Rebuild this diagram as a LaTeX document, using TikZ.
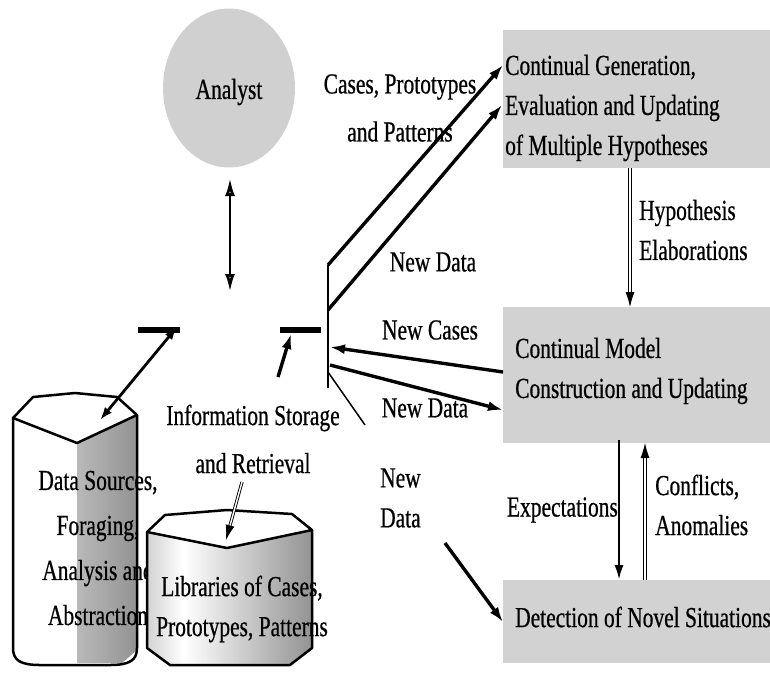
\documentclass[tikz,border=0pt]{standalone}
\usepackage{fontspec}
\setmainfont{Liberation Serif}[FakeStretch=0.74,FakeBold=0.6]
\usetikzlibrary{arrows.meta,shapes.geometric}
\pgfdeclarehorizontalshading{libshade}{100bp}{color(0bp)=(gray!35); color(25bp)=(gray!35); color(36bp)=(white); color(75bp)=(gray!85); color(100bp)=(gray!85)}
\pgfdeclarehorizontalshading{srcshade}{100bp}{color(0bp)=(gray!55); color(25bp)=(gray!55); color(75bp)=(gray!85); color(100bp)=(gray!85)}

\begin{document}
\begin{tikzpicture}[x=1pt,y=-1pt,
  lbl/.style={font=\fontsize{29}{40}\selectfont, inner sep=0pt},
  panel/.style={fill=gray!35, draw=none, anchor=north west, inner sep=0pt, minimum width=267pt},
  flow/.style={line width=3.4pt, -{Latex[length=15pt,width=10pt]}},
  hollow/.style={double=white, double distance=1.4pt, line width=0.9pt, -{Latex[length=15pt,width=9pt]}},
  cyl/.style={line width=2.5pt, line join=round}]
\useasboundingbox (0,0) rectangle (770,675);

% analyst and the three panels
\node[ellipse, fill=gray!37, minimum width=132pt, minimum height=159pt, inner sep=0pt] (analyst) at (229,88) {};
\node[lbl] (analystTxt) at (229,92) {Analyst};
\node[panel, minimum height=138pt] (gen) at (503,30) {};
\node[panel, minimum height=136pt] (model) at (503,307) {};
\node[panel, minimum height=83pt] (detect) at (503,580) {};
\node[lbl, align=left, anchor=west] (genTxt) at (505,108) {Continual Generation,\\Evaluation and Updating\\of Multiple Hypotheses};
\node[lbl, align=left, anchor=west] (modelTxt) at (515,371) {Continual Model\\Construction and Updating};
\node[lbl, anchor=west] (detectTxt) at (515,617) {Detection of Novel Situations};

% data sources cylinder
\shade[shading=srcshade] (77,443) -- (137,415) -- (137,650) -- (122,663) -- (77,663) -- cycle;
\draw[cyl] (13,418) -- (13,648) .. controls (13,660) and (20,665) .. (40,665) -- (110,665) .. controls (130,665) and (137,660) .. (137,648) -- (137,415);
\draw[cyl] (13,418) -- (33,397) -- (75,393) -- (117,397) -- (137,415) -- (77,443) -- cycle;
\node[lbl, align=center] (sources) at (98,548) {Data Sources,\\[5pt]Foraging,\\[5pt]Analysis and\\[5pt]Abstraction};

% libraries cylinder
\shade[shading=libshade] (147,532) -- (227,548) -- (312,530) -- (312,648) -- (290,665) -- (170,665) -- (147,648) -- cycle;
\draw[cyl] (147,532) -- (147,648) -- (170,665) -- (290,665) -- (312,648) -- (312,530);
\draw[cyl, fill=white] (147,532) -- (165,515) -- (227,510) -- (292,514) -- (312,530) -- (227,548) -- cycle;
\node[lbl, align=center] (library) at (242,609) {Libraries of Cases,\\Prototypes, Patterns};

% labels
\node[lbl, align=center] (storage) at (253,439) {Information Storage\\[8pt]and Retrieval};
\node[lbl, align=center] (casesLbl) at (400,108) {Cases, Prototypes\\[8pt]and Patterns};
\node[lbl] (newData1) at (433,262) {New Data};
\node[lbl] (newCases) at (430,330) {New Cases};
\node[lbl] (newData2) at (425,408) {New Data};
\node[lbl, align=left, anchor=west] (newData3) at (380,498) {New\\Data};
\node[lbl, align=left, anchor=west] (hypoLbl) at (639,230) {Hypothesis\\Elaborations};
\node[lbl, anchor=east] (expLbl) at (618,510) {Expectations};
\node[lbl, align=left, anchor=west] (conflLbl) at (655,505) {Conflicts,\\Anomalies};

% hub
\coordinate (barL1) at (138,330);
\coordinate (barL2) at (180,330);
\coordinate (barR1) at (280,330);
\coordinate (barR2) at (321,330);
\coordinate (hubTop) at (328,265);
\coordinate (hubBot) at (328,388);
\draw[line width=6pt] (barL1) -- (barL2);
\draw[line width=6pt] (barR1) -- (barR2);
\draw[line width=1.2pt] (hubTop) -- (hubBot);
\draw[line width=1.5pt] (328,372) -- (365,425);

% connectors
\coordinate (anaA) at (230,178);
\coordinate (anaB) at (230,292);
\draw[line width=2.8pt, {Latex[open,length=18pt,width=10pt]}-{Latex[open,length=18pt,width=10pt]}] (anaA) -- (anaB);
\coordinate (srcTop) at (100,420);
\coordinate (barLin) at (177,327);
\draw[line width=2.8pt, {Latex[length=13pt,width=9pt]}-{Latex[length=13pt,width=9pt]}] (srcTop) -- (barLin);
\coordinate (storeA) at (278,377);
\coordinate (storeB) at (291,334);
\draw[flow] (storeA) -- (storeB);
\coordinate (genIn1) at (503,65);
\coordinate (genIn2) at (502,105);
\coordinate (hubMid) at (328,310);
\draw[flow] (hubTop) -- (genIn1);
\draw[flow] (hubMid) -- (genIn2);
\coordinate (modelOut) at (503,372);
\coordinate (hubIn) at (330,347);
\draw[flow] (modelOut) -- (hubIn);
\coordinate (hubOut) at (330,365);
\coordinate (modelIn) at (503,410);
\draw[flow] (hubOut) -- (modelIn);
\coordinate (dataStart) at (445,543);
\coordinate (detectIn) at (503,622);
\draw[flow] (dataStart) -- (detectIn);
\coordinate (hypoA) at (630,168);
\coordinate (hypoB) at (630,307);
\draw[hollow] (hypoA) -- (hypoB);
\coordinate (expA) at (619,440);
\coordinate (expB) at (619,580);
\draw[line width=2.4pt, -{Latex[length=15pt,width=9pt]}] (expA) -- (expB);
\coordinate (confA) at (645,580);
\coordinate (confB) at (645,443);
\draw[hollow] (confA) -- (confB);
\coordinate (retrA) at (242,482);
\coordinate (retrB) at (226,540);
\draw[hollow] (retrA) -- (retrB);
\end{tikzpicture}
\end{document}
